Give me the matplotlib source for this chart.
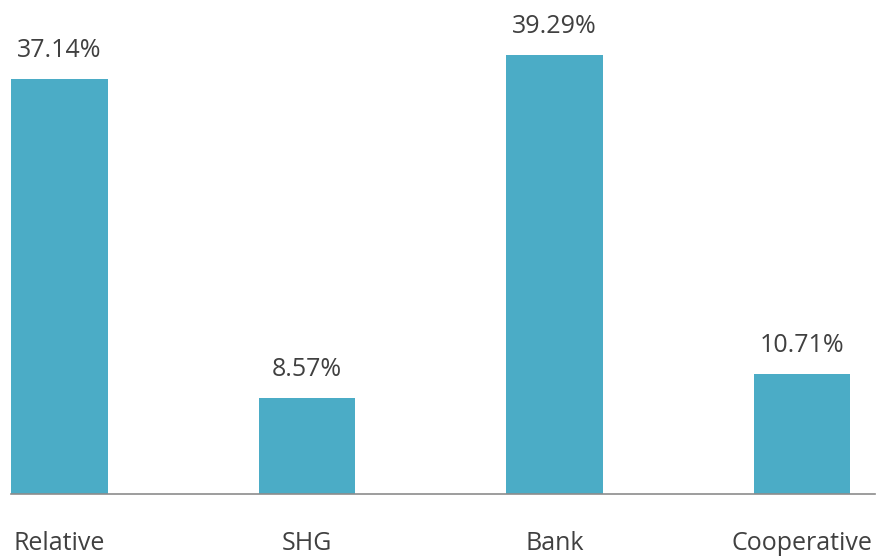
import matplotlib
matplotlib.use("Agg")
import matplotlib.pyplot as plt

categories = ["Relative", "SHG", "Bank", "Cooperative"]
values = [37.14, 8.57, 39.29, 10.71]
value_labels = ["37.14%", "8.57%", "39.29%", "10.71%"]

W, H = 878, 556
fig = plt.figure(figsize=(W / 100, H / 100), dpi=100)
ax = fig.add_axes([11 / W, 62 / H, (875 - 11) / W, 494 / H])

color = "#4BACC6"
text_color = "#404040"
font = "Open Sans"
bw = 0.39
x = list(range(len(categories)))
ax.bar(x, values, width=bw, color=color, zorder=2)
ax.set_xlim(-bw / 2, 3.295)
ax.set_ylim(0, 44.21)

for xi, v, lab in zip(x, values, value_labels):
    ax.annotate(lab, (xi, v), xytext=(0, 22), textcoords="offset pixels",
                ha="center", va="baseline", fontsize=18, color=text_color,
                family=font)

for xi, cat in zip(x, categories):
    ax.annotate(cat, (xi, 0), xytext=(0, -56), textcoords="offset pixels",
                ha="center", va="baseline", fontsize=18, color=text_color,
                family=font, annotation_clip=False)

ax.set_xticks([])
ax.set_yticks([])
for s in ["top", "right", "left"]:
    ax.spines[s].set_visible(False)
ax.spines["bottom"].set_color("#8C8C8C")
ax.spines["bottom"].set_linewidth(1.2)

fig.savefig("out.png", dpi=100)
